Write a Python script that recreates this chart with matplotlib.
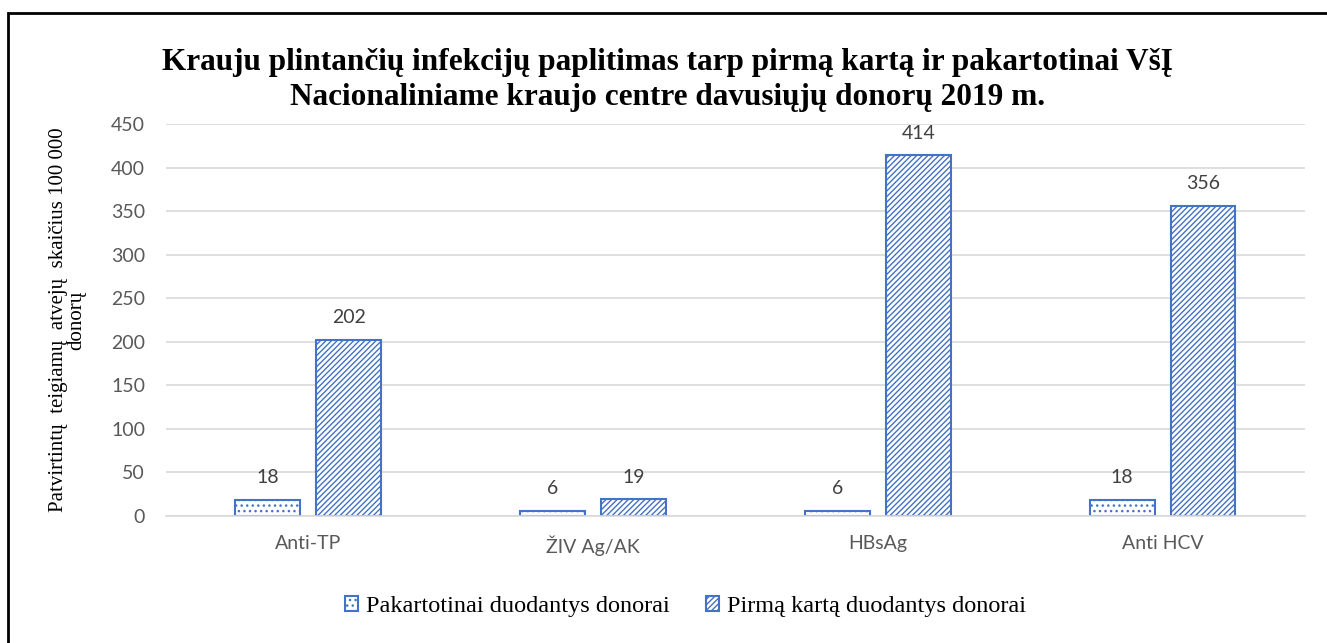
import numpy as np
import matplotlib.pyplot as plt
from matplotlib.patches import Rectangle

categories = ['Anti-TP', 'ŽIV Ag/AK', 'HBsAg', 'Anti HCV']
repeat_donors = [18, 6, 6, 18]
first_donors = [202, 19, 414, 356]
series_names = ['Pakartotinai duodantys donorai', 'Pirmą kartą duodantys donorai']

blue = '#4472C4'
plt.rcParams['hatch.color'] = blue
plt.rcParams['hatch.linewidth'] = 1.0

fig = plt.figure(figsize=(13.27, 6.43), dpi=100)
ax = fig.add_axes([0.125, 0.1975, 0.8584, 0.6095])

x = np.arange(len(categories))
w = 0.228
off = 0.142
b1 = ax.bar(x - off, repeat_donors, w, color='white', edgecolor=blue, linewidth=1.5,
            hatch='...', label=series_names[0])
b2 = ax.bar(x + off, first_donors, w, color='white', edgecolor=blue, linewidth=1.5,
            hatch='//////', label=series_names[1])

# value labels above bars
for bars in (b1, b2):
    for r in bars:
        ax.annotate(f'{int(r.get_height())}', (r.get_x() + r.get_width() / 2, r.get_height()),
                    xytext=(0, 10), textcoords='offset points', ha='center', va='bottom',
                    fontsize=14, color='#404040', family='Lato')

ax.set_xlim(-0.5, 3.5)
ax.set_ylim(0, 450)
ax.set_yticks(range(0, 451, 50))
ax.set_xticks(x)
ax.set_xticklabels(categories)
ax.yaxis.grid(True, color='#d9d9d9', linewidth=1.2)
ax.set_axisbelow(True)
for s in ['top', 'right', 'left']:
    ax.spines[s].set_visible(False)
ax.spines['bottom'].set_color('#d9d9d9')
ax.spines['bottom'].set_linewidth(1.2)
ax.tick_params(length=0, labelsize=14, labelcolor='#595959')
ax.tick_params(axis='y', pad=15)
ax.tick_params(axis='x', pad=14)
for lab in ax.get_xticklabels() + ax.get_yticklabels():
    lab.set_family('Lato')

ax.set_ylabel('Patvirtintų  teigiamų  atvejų  skaičius 100 000\ndonorų',
              family='Liberation Serif', fontsize=15, labelpad=18, linespacing=0.9)

fig.suptitle('Krauju plintančių infekcijų paplitimas tarp pirmą kartą ir pakartotinai VšĮ\n'
             'Nacionaliniame kraujo centre davusiųjų donorų 2019 m.',
             family='Liberation Serif', fontweight='bold', fontsize=22.5, y=0.925, x=0.503,
             linespacing=1.25)

ax.legend(loc='upper center', bbox_to_anchor=(0.456, -0.148), ncol=2, frameon=False,
          prop={'family': 'Liberation Serif', 'size': 17.5}, handlelength=0.55,
          handleheight=0.55, handletextpad=0.3, columnspacing=1.5)

# outer frame (cropped on right and bottom like the original)
fig.patches.append(Rectangle((8 / 1327, -0.1), 1.2, 1 - 13 / 643 + 0.1, transform=fig.transFigure,
                             fill=False, edgecolor='black', linewidth=2))

fig.savefig('out.png', dpi=100)
